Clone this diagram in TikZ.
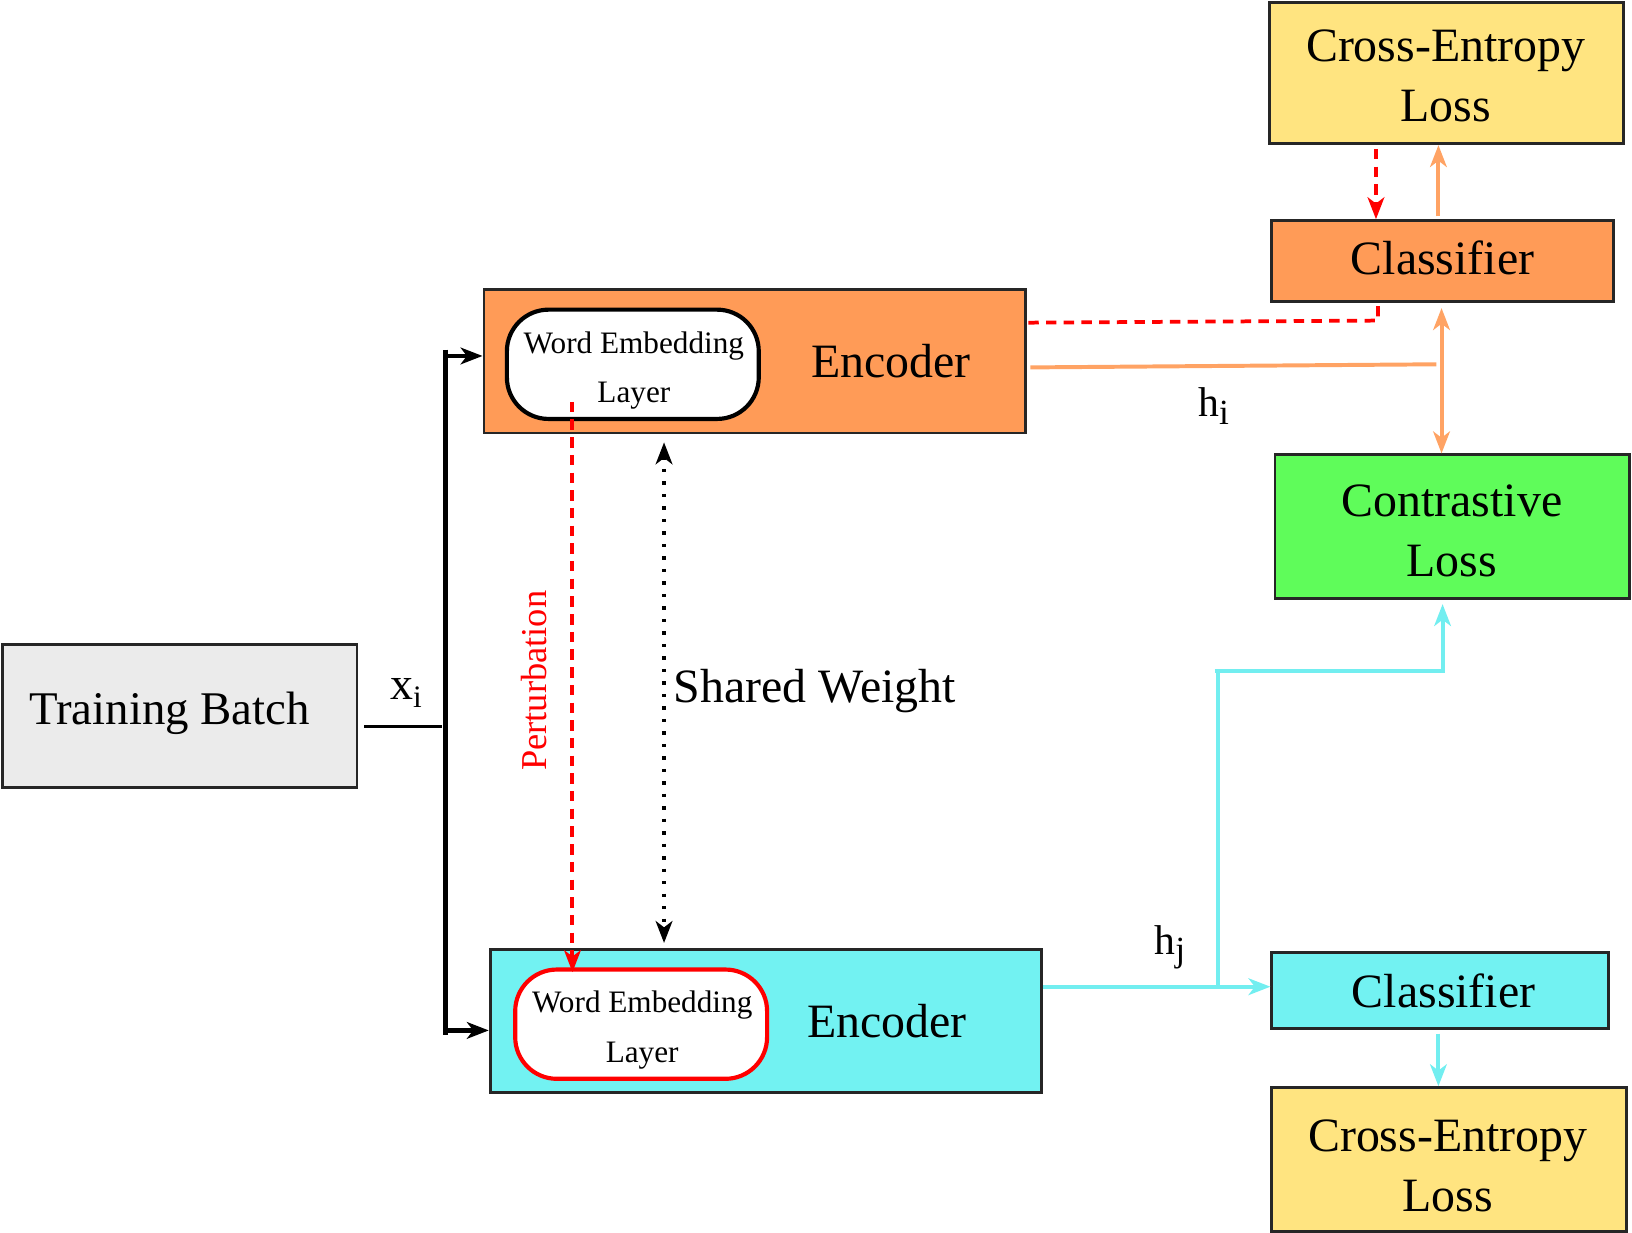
\documentclass[tikz,border=0pt]{standalone}
\usepackage{fontspec}
\setmainfont{Liberation Serif}
\usetikzlibrary{arrows.meta}
\definecolor{encorange}{HTML}{FF9B57}
\definecolor{arrorange}{HTML}{FFA364}
\definecolor{enccyan}{HTML}{72F2F2}
\definecolor{linecyan}{HTML}{72EEF0}
\definecolor{lossgreen}{HTML}{5FFC5A}
\definecolor{lossyellow}{HTML}{FFE480}
\definecolor{batchgray}{HTML}{EBEBEB}
\newcommand{\lowsub}[2]{#1\raisebox{-3.5pt}{\fontsize{17}{20}\selectfont #2}}
\tikzset{
  box/.style={draw=black!85, line width=1.4pt, inner sep=0pt},
  wel/.style={draw, line width=2pt, fill=white, rounded corners=20pt, minimum width=121pt, minimum height=52.5pt, inner sep=0pt},
  big/.style={font=\fontsize{23}{29}\selectfont},
  bigtwo/.style={font=\fontsize{23}{29}\selectfont, align=center},
  weltext/.style={font=\fontsize{15}{24}\selectfont, align=center},
  lbl/.style={font=\fontsize{20}{24}\selectfont},
  conn/.style={line width=1.9pt},
  tip/.style={-{Stealth[length=10.5pt,width=8pt,inset=3pt]}},
  tips/.style={{Stealth[length=10.5pt,width=8pt,inset=3pt]}-{Stealth[length=10.5pt,width=8pt,inset=3pt]}},
}
\begin{document}
\begin{tikzpicture}[x=0.5pt,y=-0.5pt]
\useasboundingbox (0,0) rectangle (1568,1184);
% boxes
\node[box, fill=batchgray, minimum width=170.5pt, minimum height=69pt] (tb) at (172.5,688) {};
\node[font=\fontsize{22.5}{27}\selectfont] (tbt) at (163,685) {Training Batch};
\node[box, fill=encorange, minimum width=260pt, minimum height=69pt] (enc1) at (725,347) {};
\node[big] (enc1t) at (856,347) {Encoder};
\node[wel] (wel1) at (608,350) {};
\node[weltext] (wel1t) at (609,356) {Word Embedding\\Layer};
\node[box, fill=enccyan, minimum width=265pt, minimum height=69pt] (enc2) at (736,981) {};
\node[big] (enc2t) at (852,981) {Encoder};
\node[wel, draw=red] (wel2) at (616,984) {};
\node[weltext] (wel2t) at (617,990) {Word Embedding\\Layer};
\node[box, fill=lossyellow, minimum width=170pt, minimum height=68pt] (ce1) at (1390,70) {};
\node[bigtwo] (ce1t) at (1389,73) {Cross-Entropy\\Loss};
\node[box, fill=encorange, minimum width=164pt, minimum height=39pt] (cls1) at (1386,251) {};
\node[big] (cls1t) at (1386,248) {Classifier};
\node[box, fill=lossgreen, minimum width=170.5pt, minimum height=69pt] (cl) at (1395.5,506) {};
\node[bigtwo] (clt) at (1395,510) {Contrastive\\Loss};
\node[box, fill=enccyan, minimum width=161.5pt, minimum height=36.5pt] (cls2) at (1383.5,951.5) {};
\node[big] (cls2t) at (1387,952) {Classifier};
\node[box, fill=lossyellow, minimum width=170.5pt, minimum height=69pt] (ce2) at (1392.5,1114) {};
\node[bigtwo] (ce2t) at (1391,1120) {Cross-Entropy\\Loss};
% labels
\node[font=\fontsize{22}{24}\selectfont] (xi) at (390,666) {x\raisebox{-4pt}{\fontsize{15}{18}\selectfont i}};
\node[lbl] (hi) at (1166,390) {\lowsub{h}{i}};
\node[lbl] (hj) at (1124,910) {\lowsub{h}{j}};
\node[text=red, rotate=90, font=\fontsize{17.5}{20}\selectfont] (pert) at (513,654) {Perturbation};
\node[big, anchor=west, inner sep=0pt] (sw) at (647,664) {Shared Weight};
% input trunk
\coordinate (in1) at (350,698);
\coordinate (in2) at (425,698);
\coordinate (tr1) at (428,336);
\coordinate (tr2) at (428,994);
\draw[line width=1.9pt] (in1) -- (in2);
\draw[line width=2.2pt] (tr1) -- (tr2);
\draw[line width=2.2pt, tip] (427,342) -- (enc1.west |- 0,342);
\draw[line width=2.2pt, tip] (427,990) -- (enc2.west |- 0,990);
% perturbation
\draw[red, conn, dash pattern=on 5pt off 3.5pt, tip] (550,386) -- (550,934);
% shared weight
\draw[conn, dash pattern=on 1.6pt off 4.4pt, tips] (638,425) -- (638,906);
% top branch
\coordinate (rd1) at (988,310);
\coordinate (rd2) at (1324,308);
\draw[red, line width=1.8pt, dash pattern=on 5pt off 3.5pt] (rd1) -- (rd2) -- (cls1.south -| rd2);
\coordinate (ho1) at (990,353);
\coordinate (ho2) at (1380,350);
\draw[arrorange, conn] (ho1) -- (ho2);
\draw[arrorange, conn, tips] (1385,296) -- (cl.north -| 1385,0);
\draw[arrorange, conn, tip] (1382,208) -- (ce1.south -| 1382,0);
\draw[red, conn, dash pattern=on 5pt off 3.5pt, tip] (1322,143) -- (cls1.north -| 1322,0);
% bottom branch
\coordinate (br) at (1170,948);
\coordinate (bt) at (1170,645);
\coordinate (bt0) at (1167,645);
\coordinate (bc) at (1386,645);
\draw[linecyan, conn, tip] (enc2.east |- br) -- (cls2.west |- br);
\draw[linecyan, conn] (br) -- (bt);
\draw[linecyan, conn, tip] (bt0) -- (bc) -- ([yshift=-2pt]cl.south -| bc);
\draw[linecyan, conn, tip] (1382,993) -- (ce2.north -| 1382,0);
\end{tikzpicture}
\end{document}
